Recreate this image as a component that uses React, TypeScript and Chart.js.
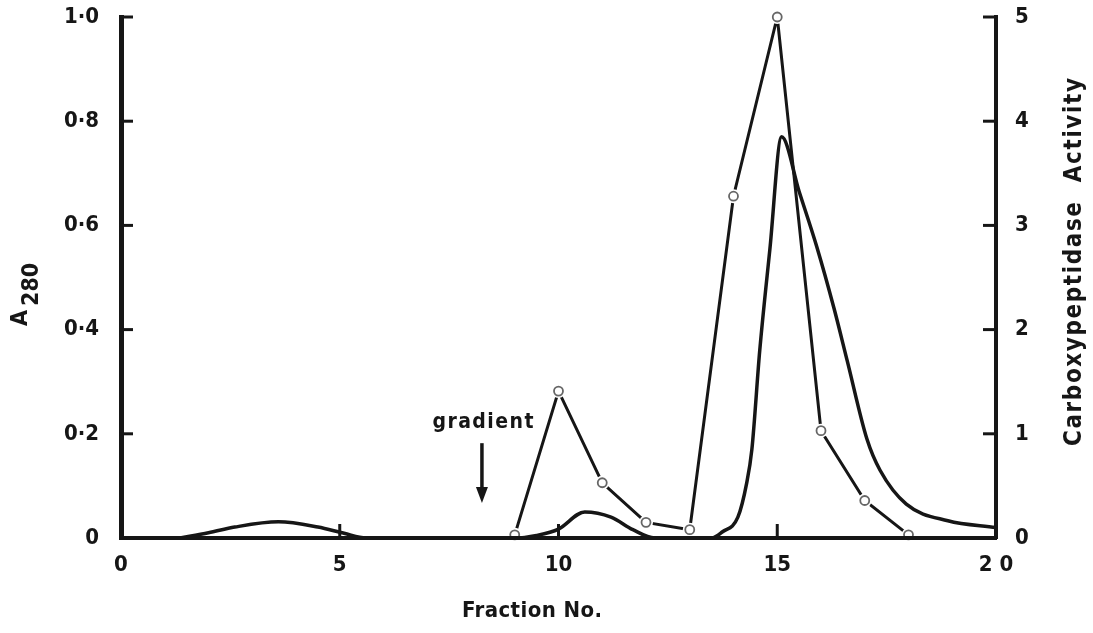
import React, { useEffect, useRef } from 'react';
import { Chart, registerables } from 'chart.js';

Chart.register(...registerables);

// ---- tick values and labels ----
const fractionTicks = [0, 5, 10, 15, 20];
const fractionTickLabels = ['0', '5', '10', '15', '2 0'];
const a280Ticks = [0, 0.2, 0.4, 0.6, 0.8, 1.0];
const a280TickLabels = ['0', '0·2', '0·4', '0·6', '0·8', '1·0'];
const activityTicks = [0, 1, 2, 3, 4, 5];
const activityTickLabels = ['0', '1', '2', '3', '4', '5'];

// ---- A280 trace (continuous recorder curve) ----
const a280Fraction = [
  1.35, 2.0, 2.6, 3.6, 4.5, 5.1, 5.6, 7.0, 9.0, 9.5, 10.0, 10.6, 11.2, 11.7, 12.2, 13.0,
  13.5, 13.75, 14.1, 14.3, 14.42, 14.6, 14.83, 15.1, 15.5, 15.9, 16.3, 16.6, 17.05, 17.35,
  17.95, 18.9, 20.0,
];
const a280Values = [
  0, 0.01, 0.021, 0.031, 0.021, 0.009, 0, 0, 0, 0.005, 0.017, 0.05, 0.04, 0.016, 0, 0,
  0, 0.012, 0.04, 0.105, 0.17, 0.36, 0.553, 0.77, 0.665, 0.56, 0.44, 0.34, 0.19, 0.13,
  0.065, 0.033, 0.02,
];

// ---- Carboxypeptidase activity (open circles) ----
const activityFraction = [9, 10, 11, 12, 13, 14, 15, 16, 17, 18];
const activityValues = [0.03, 1.41, 0.53, 0.15, 0.08, 3.28, 5.0, 1.03, 0.36, 0.03];

// ---- "gradient" annotation (in data units) ----
const gradientFraction = 8.25;
const gradientLabelLevel = 0.222;
const gradientArrowTop = 0.182;
const gradientArrowTip = 0.067;

const INK = '#161616';
const SANS = "'DejaVu Sans Condensed', 'Liberation Sans', Arial, sans-serif";

const labelFor = (values: number[], labels: string[], v: number) => {
  const i = values.findIndex((t) => Math.abs(t - v) < 1e-9);
  return i >= 0 ? labels[i] : '';
};

const drawSpaced = (
  ctx: CanvasRenderingContext2D,
  text: string,
  x: number,
  y: number,
  width: number,
) => {
  (ctx as any).letterSpacing = '0px';
  const w = ctx.measureText(text).width;
  const sp = text.length > 1 ? (width - w) / (text.length - 1) : 0;
  (ctx as any).letterSpacing = `${sp}px`;
  ctx.textAlign = 'left';
  ctx.fillText(text, x - width / 2, y);
  (ctx as any).letterSpacing = '0px';
};

const decorPlugin = {
  id: 'decor',
  afterDraw(chart: any) {
    const { ctx, chartArea, scales } = chart;
    const xs = scales.x;
    const ys = scales.y;
    const y1s = scales.y1;
    ctx.save();
    ctx.strokeStyle = INK;
    ctx.fillStyle = INK;
    ctx.lineCap = 'butt';

    const seg = (x1: number, yA: number, x2: number, yB: number, w: number) => {
      ctx.lineWidth = w;
      ctx.beginPath();
      ctx.moveTo(x1, yA);
      ctx.lineTo(x2, yB);
      ctx.stroke();
    };

    // inward ticks
    a280Ticks.filter((v) => v > 0).forEach((v) => {
      const py = ys.getPixelForValue(v);
      seg(chartArea.left - 2, py, chartArea.left + 12, py, 3);
    });
    activityTicks.filter((v) => v > 0).forEach((v) => {
      const py = y1s.getPixelForValue(v);
      seg(chartArea.right - 13, py, chartArea.right + 2, py, 3);
    });
    fractionTicks.filter((v) => v > 0 && v < 20).forEach((v) => {
      const px = xs.getPixelForValue(v);
      seg(px, chartArea.bottom, px, chartArea.bottom - 14, 3);
    });

    // gradient arrow
    const ax = xs.getPixelForValue(gradientFraction);
    const aTop = ys.getPixelForValue(gradientArrowTop);
    const aTip = ys.getPixelForValue(gradientArrowTip);
    seg(ax, aTop, ax, aTip - 10, 3.5);
    ctx.beginPath();
    ctx.moveTo(ax - 6, aTip - 16);
    ctx.lineTo(ax + 6, aTip - 16);
    ctx.lineTo(ax, aTip);
    ctx.closePath();
    ctx.fill();

    // gradient label
    ctx.font = `bold 21px ${SANS}`;
    ctx.textBaseline = 'middle';
    drawSpaced(ctx, 'gradient', ax + 1, ys.getPixelForValue(gradientLabelLevel), 101);

    // x title
    ctx.font = `bold 22px ${SANS}`;
    drawSpaced(ctx, 'Fraction No.', 532, 611, 140);

    // right title (rotated)
    ctx.save();
    ctx.translate(1075, 262);
    ctx.rotate(-Math.PI / 2);
    ctx.font = `bold 24px ${SANS}`;
    ctx.textBaseline = 'middle';
    drawSpaced(ctx, 'Carboxypeptidase  Activity', 0, 0, 368);
    ctx.restore();

    // left title A280 with subscript
    ctx.save();
    ctx.translate(27, 326);
    ctx.rotate(-Math.PI / 2);
    ctx.font = `bold 23px ${SANS}`;
    ctx.textBaseline = 'alphabetic';
    ctx.textAlign = 'left';
    ctx.fillText('A', 0, 0);
    const wA = ctx.measureText('A').width;
    ctx.fillText('280', wA + 4, 11);
    ctx.restore();

    ctx.restore();
  },
};

export default function App() {
  const canvasRef = useRef<HTMLCanvasElement | null>(null);

  useEffect(() => {
    const canvas = canvasRef.current;
    if (!canvas) return;

    const a280Data = a280Fraction.map((x, i) => ({ x, y: a280Values[i] }));
    const activityData = activityFraction.map((x, i) => ({ x, y: activityValues[i] }));

    const tickFont = { family: SANS, size: 22, weight: 'bold' as const };

    const chart = new Chart(canvas, {
      type: 'line',
      data: {
        datasets: [
          {
            label: 'A280',
            data: a280Data,
            yAxisID: 'y',
            borderColor: INK,
            borderWidth: 3.5,
            pointRadius: 0,
            cubicInterpolationMode: 'monotone',
            fill: false,
            order: 4,
          },
          {
            label: 'Carboxypeptidase Activity',
            data: activityData,
            yAxisID: 'y1',
            borderColor: INK,
            borderWidth: 3,
            pointRadius: 0,
            tension: 0,
            fill: false,
            order: 3,
          },
          {
            label: 'halo',
            data: activityData,
            yAxisID: 'y1',
            showLine: false,
            pointRadius: 7,
            pointBorderWidth: 0,
            pointBackgroundColor: '#ffffff',
            pointBorderColor: '#ffffff',
            clip: false,
            order: 2,
          },
          {
            label: 'markers',
            data: activityData,
            yAxisID: 'y1',
            showLine: false,
            pointRadius: 4.5,
            pointBorderWidth: 1.8,
            pointBackgroundColor: '#ffffff',
            pointBorderColor: '#666666',
            clip: false,
            order: 1,
          },
        ],
      },
      options: {
        responsive: false,
        animation: false,
        layout: { padding: { top: 17, left: 0, right: 0, bottom: 0 } },
        plugins: {
          legend: { display: false },
          tooltip: { enabled: false },
        },
        scales: {
          x: {
            type: 'linear',
            min: 0,
            max: 20,
            afterBuildTicks: (s: any) => {
              s.ticks = fractionTicks.map((value) => ({ value }));
            },
            ticks: {
              callback: (v: any) => labelFor(fractionTicks, fractionTickLabels, Number(v)),
              font: tickFont,
              color: INK,
              padding: 14,
              maxRotation: 0,
              autoSkip: false,
            },
            grid: { display: false, drawTicks: false },
            border: { display: true, width: 4, color: INK, z: 1 },
            afterFit: (s: any) => {
              s.height = 95;
              s.paddingLeft = 0;
              s.paddingRight = 0;
            },
          },
          y: {
            type: 'linear',
            position: 'left',
            min: 0,
            max: 1,
            afterBuildTicks: (s: any) => {
              s.ticks = a280Ticks.map((value) => ({ value }));
            },
            ticks: {
              callback: (v: any) => labelFor(a280Ticks, a280TickLabels, Number(v)),
              font: tickFont,
              color: INK,
              padding: 22,
              autoSkip: false,
            },
            grid: { display: false, drawTicks: false },
            border: { display: true, width: 5, color: INK, z: 1 },
            afterFit: (s: any) => {
              s.width = 121;
              s.paddingTop = 0;
              s.paddingBottom = 0;
            },
          },
          y1: {
            type: 'linear',
            position: 'right',
            min: 0,
            max: 5,
            afterBuildTicks: (s: any) => {
              s.ticks = activityTicks.map((value) => ({ value }));
            },
            ticks: {
              callback: (v: any) => labelFor(activityTicks, activityTickLabels, Number(v)),
              font: tickFont,
              color: INK,
              padding: 19,
              autoSkip: false,
            },
            grid: { display: false, drawTicks: false },
            border: { display: true, width: 4, color: INK, z: 1 },
            afterFit: (s: any) => {
              s.width = 97;
              s.paddingTop = 0;
              s.paddingBottom = 0;
            },
          },
        },
      },
      plugins: [decorPlugin],
    } as any);

    return () => chart.destroy();
  }, []);

  return (
    <div style={{ position: 'absolute', left: 0, top: 0, width: 1093, height: 633, background: '#fff' }}>
      <canvas ref={canvasRef} width={1093} height={633} style={{ display: 'block' }} />
    </div>
  );
}
